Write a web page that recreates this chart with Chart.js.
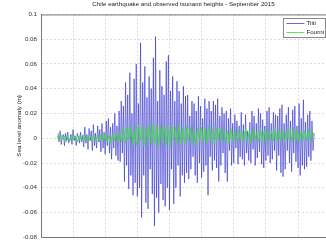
<!DOCTYPE html>
<html>
<head>
<meta charset="utf-8">
<script src="https://cdn.jsdelivr.net/npm/chart.js@4.4.0/dist/chart.umd.min.js"></script>
<style>
  body { margin: 0; background: #fff; overflow: hidden; }
  #wrap { width: 326px; height: 245px; }
</style>
</head>
<body>
<div id="wrap"><canvas id="myChart"></canvas></div>
<script>
// time axis (arbitrary units, gridline every 1)
var tiitiStart = 0.53, tiitiEnd = 8.5;
var fourniStart = 0.5, fourniEnd = 8.5;

var yTicks = [-0.08, -0.06, -0.04, -0.02, 0, 0.02, 0.04, 0.06, 0.08, 0.1];

// sea level anomaly (m)
var tiiti = [
  0.004, -0.003, 0.006, -0.005, 0.002, 0.003, -0.006, 0.004, -0.002, 0.005, -0.004, -0.001, 0.003, -0.005, 0.007, -0.002, 0.002, -0.006, 0.004, 0.001, -0.004, 0.005, -0.003, 0.002,
  -0.007, 0.009, -0.004, 0.003, -0.009, 0.008, -0.002, 0.006, -0.010, 0.011, -0.006, 0.004, -0.008, 0.010, -0.003, 0.007, -0.011, 0.012,
  -0.008, 0.005, -0.013, 0.014, -0.006, 0.016, -0.012, 0.009, -0.017, 0.012, -0.008, 0.020, -0.014, 0.010, -0.018, 0.022,
  -0.019, 0.030, -0.012, 0.026, -0.035, 0.045, -0.022, 0.035, -0.041, 0.053, -0.030, 0.020, -0.046, 0.048,
  -0.036, 0.060, -0.047, 0.028, -0.040, 0.077, -0.064, 0.045, -0.030, 0.058, -0.052, 0.033, -0.057, 0.050, -0.025, 0.040, -0.045, 0.065, -0.071, 0.082, -0.048, 0.030, -0.060, 0.055, -0.037, 0.042, -0.050, 0.035, -0.055, 0.062, -0.040,
  0.067, -0.058, 0.038, -0.025, 0.050, -0.053, 0.030, -0.040, 0.046, -0.022, 0.038, -0.047, 0.028, -0.030, 0.042, -0.036, 0.034,
  -0.028, 0.035, -0.033, 0.018, -0.025, 0.030, -0.015, 0.028, -0.030, 0.022, -0.036, 0.034, -0.020, 0.026, -0.032, 0.016, -0.027, 0.032, -0.022, 0.024, -0.046, 0.030, -0.015, 0.022, -0.026, 0.030, -0.018, 0.027, -0.024, 0.032, -0.035, 0.018, -0.022, 0.025, -0.012, 0.020, -0.028,
  0.022, -0.035, 0.016, -0.010, 0.024, -0.022, 0.012, -0.020, 0.019, -0.008, 0.014, -0.021, 0.010, -0.015, 0.021, -0.017, 0.011, -0.022, 0.019, -0.012, 0.006, -0.018, 0.013, -0.020, 0.022, -0.009, 0.018, -0.022, 0.012, -0.016, 0.024, -0.011, 0.020, -0.021, 0.015, -0.024, 0.010, -0.018, 0.022, -0.014, 0.025, -0.020, 0.012, -0.017, 0.021, -0.010, 0.019,
  -0.026, 0.018, -0.014, 0.024, -0.028, 0.027, -0.031, 0.012, -0.025, 0.019, -0.010, 0.025, -0.020, 0.014, -0.027, 0.023, -0.012, 0.026, -0.019, 0.010, -0.024, 0.028, -0.030, 0.016, -0.022, 0.031, -0.025, 0.013, -0.023, 0.019, -0.015, 0.022, -0.018, 0.014, -0.010, 0.004
];

var fourni = [
  0.002, -0.002, 0.003, -0.001, 0.002, -0.003, 0.001, -0.002, 0.003, -0.001, 0.002, -0.003, 0.002, -0.001, 0.003, -0.002, 0.001, -0.003, 0.002, -0.002, 0.003, -0.001, 0.002, -0.003, 0.004, -0.002, 0.003, -0.003, 0.002, -0.004, 0.003, -0.002, 0.004, -0.003, 0.005,
  -0.003, 0.008, -0.004, 0.009, -0.001, 0.010, -0.005, 0.007, -0.006, 0.011, -0.002, 0.009, -0.006, 0.008, -0.003, 0.012, -0.005, 0.010, -0.004, 0.011, -0.006, 0.009, -0.003, 0.010, -0.005, 0.008, -0.007, 0.010, -0.002, 0.009, -0.004, 0.011, -0.003, 0.008, -0.005, 0.010, -0.002, 0.009, -0.004, 0.007, -0.006, 0.008, -0.002, 0.009, -0.003, 0.008, -0.004, 0.010, -0.002, 0.007, -0.004, 0.009, -0.001, 0.008,
  -0.003, 0.007, -0.002, 0.006, -0.004, 0.008, -0.002, 0.005, -0.003, 0.007, -0.001, 0.006, -0.003, 0.008, -0.002, 0.006, -0.004, 0.007, -0.001, 0.005, -0.003, 0.008, -0.002, 0.006, -0.003, 0.007, -0.001, 0.006, -0.002, 0.008, -0.003, 0.006, -0.002, 0.007, -0.003, 0.006, -0.001, 0.007, -0.003, 0.008, -0.002, 0.006, -0.003, 0.007, -0.001, 0.006, -0.002, 0.007, -0.003, 0.006, 0.002
];

function toPoints(values, start, end) {
  var pts = [];
  var step = (end - start) / (values.length - 1);
  for (var i = 0; i < values.length; i++) {
    pts.push({ x: start + i * step, y: values[i] });
  }
  return pts;
}

var FONT = "'Liberation Sans', Arial, sans-serif";

// legend box drawn inside the plot, top right
var boxLegend = {
  id: 'boxLegend',
  afterDraw: function(chart) {
    var ctx = chart.ctx;
    var area = chart.chartArea;
    ctx.save();
    // top edge of axes box
    ctx.strokeStyle = '#777';
    ctx.lineWidth = 1;
    ctx.beginPath();
    ctx.moveTo(area.left, area.top + 0.5);
    ctx.lineTo(area.right, area.top + 0.5);
    ctx.stroke();

    var x = 283.5, y = 18.5, w = 42, h = 19;
    ctx.fillStyle = '#fff';
    ctx.fillRect(x, y, w, h);
    ctx.strokeStyle = '#888';
    ctx.strokeRect(x, y, w, h);
    ctx.font = '6.2px ' + FONT;
    ctx.textBaseline = 'middle';
    chart.data.datasets.forEach(function(ds, i) {
      var ly = y + 5 + i * 9;
      ctx.strokeStyle = ds.legendColor;
      ctx.beginPath();
      ctx.moveTo(x + 3, ly);
      ctx.lineTo(x + 21, ly);
      ctx.stroke();
      ctx.fillStyle = '#222';
      ctx.fillText(ds.label, x + 23, ly);
    });
    ctx.restore();
  }
};

var ctx = document.getElementById('myChart').getContext('2d');
var myChart = new Chart(ctx, {
  type: 'line',
  data: {
    datasets: [{
      label: 'Tiiti',
      data: toPoints(tiiti, tiitiStart, tiitiEnd),
      borderColor: 'rgba(45,45,205,0.6)',
      legendColor: 'rgba(90,90,220,0.9)',
      borderWidth: 1,
      pointRadius: 0,
      order: 1
    }, {
      label: 'Fourni',
      data: toPoints(fourni, fourniStart, fourniEnd),
      borderColor: 'rgba(50,228,50,0.85)',
      legendColor: 'rgba(90,235,90,1)',
      borderWidth: 1,
      pointRadius: 0,
      order: 0
    }]
  },
  options: {
    responsive: true,
    maintainAspectRatio: false,
    animation: false,
    layout: { padding: { left: 0, right: 0, top: 0, bottom: 3 } },
    plugins: {
      legend: { display: false },
      tooltip: { enabled: false },
      title: {
        display: true,
        fullSize: false,
        text: 'Chile earthquake and observed tsunami heights - September 2015',
        color: '#222',
        font: { family: FONT, size: 6.2, weight: 'normal' },
        padding: { top: 1, bottom: 6 }
      }
    },
    scales: {
      x: {
        type: 'linear',
        min: 0,
        max: 8.87,
        ticks: { display: false, stepSize: 1, includeBounds: false },
        grid: { color: '#dadada', drawTicks: false },
        border: { color: '#777', dash: [2, 2] },
        afterFit: function(scale) { scale.height = 0; }
      },
      y: {
        min: yTicks[0],
        max: yTicks[yTicks.length - 1],
        afterBuildTicks: function(scale) {
          scale.ticks = yTicks.map(function(v) { return { value: v }; });
        },
        ticks: {
          color: '#333',
          padding: 4,
          font: { family: FONT, size: 6.2 },
          callback: function(v) { return String(Number(v.toFixed(2))); }
        },
        grid: { color: '#dadada', drawTicks: false },
        border: { color: '#777', dash: [2, 2] },
        title: {
          display: true,
          text: 'Sea level anomaly (m)',
          color: '#222',
          font: { family: FONT, size: 6.2 },
          padding: { top: 16, bottom: 0 }
        },
        afterFit: function(scale) { scale.width = 41; }
      }
    }
  },
  plugins: [boxLegend]
});
</script>
</body>
</html>
